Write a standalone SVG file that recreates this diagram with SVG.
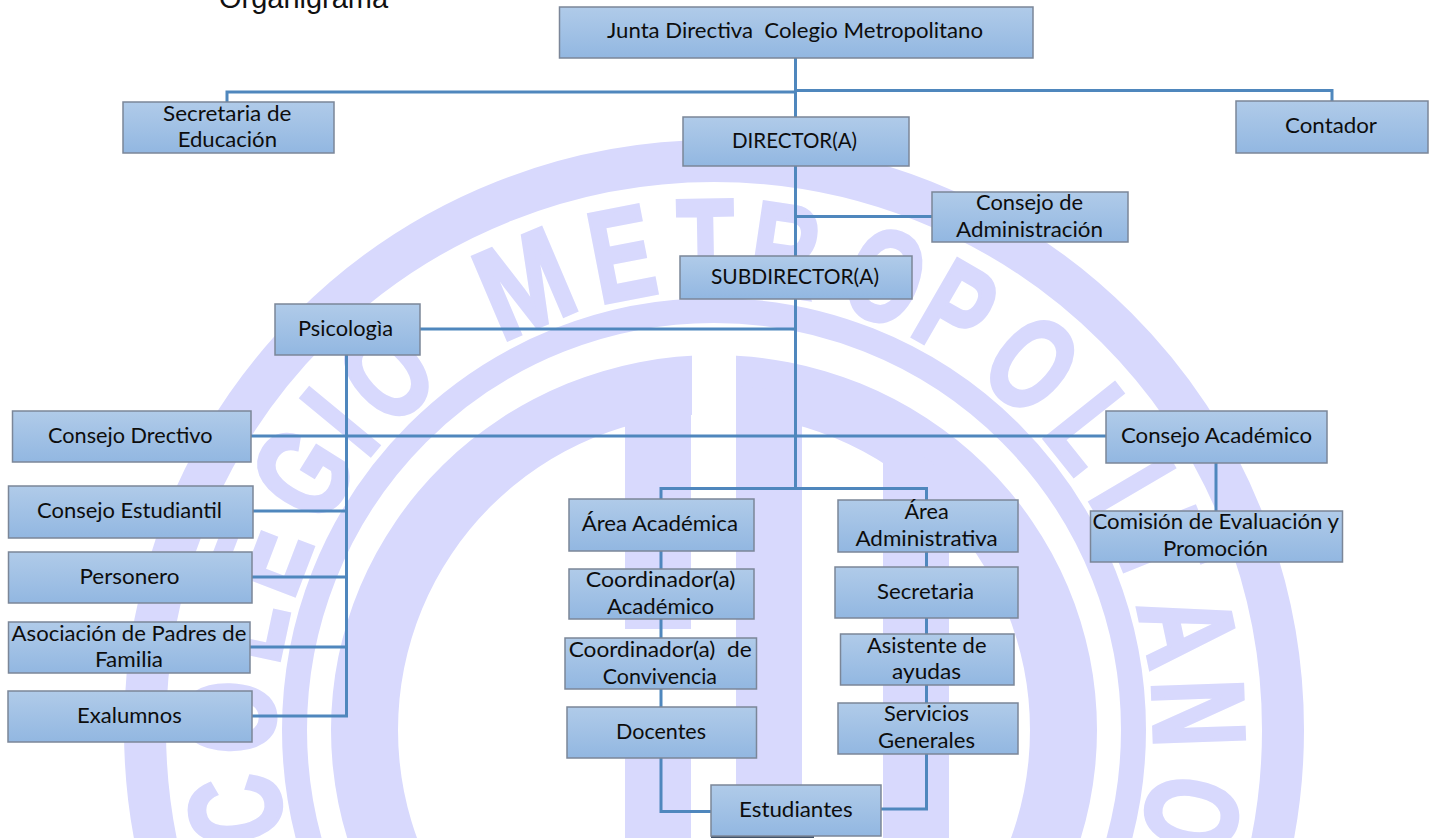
<svg xmlns="http://www.w3.org/2000/svg" width="1429" height="838" viewBox="0 0 1429 838">
<style>
.wm{fill:#d8d9fd;stroke:none}
.ring{fill:none;stroke:#d8d9fd}
.l{font:bold 130px "Liberation Sans",Arial,sans-serif;fill:#d8d9fd;stroke:#d8d9fd;stroke-width:4;text-anchor:middle}
.box{fill:url(#g);stroke:#7b8698;stroke-width:1.5}
.t{font:21.5px Lato,"Liberation Sans",sans-serif;fill:#0d0d0d;white-space:pre}
.title{font:28.6px "Liberation Sans",Arial,sans-serif;fill:#111}
#connectors path{fill:none;stroke:#4f87bd;stroke-width:3}
</style>
<defs>
<linearGradient id="g" x1="0" y1="0" x2="0" y2="1"><stop offset="0" stop-color="#b0cbe9"/><stop offset="1" stop-color="#92b7e1"/></linearGradient>
<clipPath id="gapclip"><path d="M0 0H692V838H0ZM736 0H1429V838H736Z"/></clipPath>
<clipPath id="barclip"><circle cx="714" cy="730" r="345"/></clipPath>
</defs>
<rect width="1429" height="838" fill="#fff"/>
<g id="watermark">
<circle class="ring" cx="714" cy="730" r="569" stroke-width="42"/>
<circle class="ring" cx="714" cy="730" r="419.5" stroke-width="25"/>
<g clip-path="url(#gapclip)">
<path class="wm" fill-rule="evenodd" d="M331 730A383 375 0 0 1 1097 730A383 375 0 0 1 331 730ZM398 730A316 316 0 0 0 1030 730A316 316 0 0 0 398 730Z"/>
</g>
<g clip-path="url(#barclip)">
<rect class="wm" x="625" y="400" width="66" height="229"/>
<rect class="wm" x="625" y="730" width="66" height="108"/>
<rect class="wm" x="736" y="380" width="66" height="458"/>
<rect class="wm" x="883" y="400" width="66" height="438"/>
</g>
<text class="l" transform="rotate(-99.5 714 730) translate(714 290) scale(.72 1)">C</text>
<text class="l" transform="rotate(-88.5 714 730) translate(714 290) scale(.72 1)">O</text>
<text class="l" transform="rotate(-78 714 730) translate(714 290) scale(.72 1)">L</text>
<text class="l" transform="rotate(-69 714 730) translate(714 290) scale(.72 1)">E</text>
<text class="l" transform="rotate(-58 714 730) translate(714 290) scale(.72 1)">G</text>
<text class="l" transform="rotate(-50.5 714 730) translate(714 290) scale(.72 1)">I</text>
<text class="l" transform="rotate(-42.5 714 730) translate(714 290) scale(.72 1)">O</text>
<text class="l" transform="rotate(-23 714 730) translate(714 290) scale(.82 1)">M</text>
<text class="l" transform="rotate(-11 714 730) translate(714 290) scale(.72 1)">E</text>
<text class="l" transform="rotate(-1 714 730) translate(714 290) scale(.72 1)">T</text>
<text class="l" transform="rotate(8.4 714 730) translate(714 290) scale(.72 1)">R</text>
<text class="l" transform="rotate(20.7 714 730) translate(714 290) scale(.72 1)">O</text>
<text class="l" transform="rotate(30 714 730) translate(714 290) scale(.72 1)">P</text>
<text class="l" transform="rotate(41 714 730) translate(714 290) scale(.72 1)">O</text>
<text class="l" transform="rotate(51.5 714 730) translate(714 290) scale(.72 1)">L</text>
<text class="l" transform="rotate(59.6 714 730) translate(714 290) scale(.72 1)">I</text>
<text class="l" transform="rotate(68 714 730) translate(714 290) scale(.72 1)">T</text>
<text class="l" transform="rotate(78 714 730) translate(714 290) scale(.72 1)">A</text>
<text class="l" transform="rotate(88 714 730) translate(714 290) scale(.72 1)">N</text>
<text class="l" transform="rotate(100 714 730) translate(714 290) scale(.72 1)">O</text>
</g>
<text class="title" x="219" y="8" textLength="169" lengthAdjust="spacingAndGlyphs">Organigrama</text>
<g id="connectors">
<path d="M795.5 58V117"/>
<path d="M795.5 90.5H1332V101"/>
<path d="M795.5 92H227V102"/>
<path d="M795.5 166V256"/>
<path d="M795.5 216.5H932"/>
<path d="M795.5 299V488.5"/>
<path d="M420 329H795.5"/>
<path d="M251 436H1106"/>
<path d="M661 499V488.5H926.5V500"/>
<path d="M661 551V569M661 619V638M661 689V707"/>
<path d="M661 758V811.5H711"/>
<path d="M926.5 552V567M926.5 618V634M926.5 685V703"/>
<path d="M926.5 754V809H881"/>
<path d="M346.5 355V716H252"/>
<path d="M253 511H346.5M252 577H346.5M250 647H346.5"/>
<path d="M1216 463V511"/>
</g>
<g id="junta"><rect class="box" x="559.5" y="7" width="473.5" height="51"/><text class="t" x="607" y="38" textLength="376" lengthAdjust="spacingAndGlyphs">Junta Directiva  Colegio Metropolitano</text></g>
<g id="secretaria-educacion"><rect class="box" x="123" y="102" width="211" height="51"/><text class="t" x="163" y="120.5" textLength="128.5" lengthAdjust="spacingAndGlyphs">Secretaria de</text><text class="t" x="177.7" y="146.5" textLength="99.3" lengthAdjust="spacingAndGlyphs">Educación</text></g>
<g id="contador"><rect class="box" x="1236" y="101" width="192" height="52"/><text class="t" x="1285" y="133" textLength="92" lengthAdjust="spacingAndGlyphs">Contador</text></g>
<g id="director"><rect class="box" x="683" y="117" width="226" height="49"/><text class="t" x="732" y="148" textLength="125" lengthAdjust="spacingAndGlyphs">DIRECTOR(A)</text></g>
<g id="consejo-administracion"><rect class="box" x="932" y="192" width="196" height="50"/><text class="t" x="976" y="210" textLength="107" lengthAdjust="spacingAndGlyphs">Consejo de</text><text class="t" x="956" y="236.5" textLength="147" lengthAdjust="spacingAndGlyphs">Administración</text></g>
<g id="subdirector"><rect class="box" x="680" y="256" width="232" height="43"/><text class="t" x="711" y="284" textLength="168" lengthAdjust="spacingAndGlyphs">SUBDIRECTOR(A)</text></g>
<g id="psicologia"><rect class="box" x="275" y="304" width="145" height="51"/><text class="t" x="298" y="335.5" textLength="95" lengthAdjust="spacingAndGlyphs">Psicologìa</text></g>
<g id="consejo-directivo"><rect class="box" x="12.5" y="411" width="238.5" height="51"/><text class="t" x="48" y="443" textLength="164.5" lengthAdjust="spacingAndGlyphs">Consejo Drectivo</text></g>
<g id="consejo-academico"><rect class="box" x="1106" y="411" width="221" height="52"/><text class="t" x="1121" y="443" textLength="191" lengthAdjust="spacingAndGlyphs">Consejo Académico</text></g>
<g id="consejo-estudiantil"><rect class="box" x="8.5" y="486" width="244.5" height="52"/><text class="t" x="37" y="518" textLength="185" lengthAdjust="spacingAndGlyphs">Consejo Estudiantil</text></g>
<g id="personero"><rect class="box" x="8.5" y="552" width="243.5" height="51"/><text class="t" x="79.5" y="584" textLength="100" lengthAdjust="spacingAndGlyphs">Personero</text></g>
<g id="asociacion"><rect class="box" x="8.5" y="622" width="241.5" height="51"/><text class="t" x="11.6" y="641" textLength="234.8" lengthAdjust="spacingAndGlyphs">Asociación de Padres de</text><text class="t" x="95" y="667" textLength="68" lengthAdjust="spacingAndGlyphs">Familia</text></g>
<g id="exalumnos"><rect class="box" x="8" y="691" width="244" height="51"/><text class="t" x="77" y="723" textLength="104.7" lengthAdjust="spacingAndGlyphs">Exalumnos</text></g>
<g id="area-academica"><rect class="box" x="569" y="499" width="185" height="52"/><text class="t" x="581.7" y="531" textLength="156.3" lengthAdjust="spacingAndGlyphs">Área Académica</text></g>
<g id="coordinador-academico"><rect class="box" x="569" y="569" width="185" height="50"/><text class="t" x="585.7" y="586.5" textLength="149.8" lengthAdjust="spacingAndGlyphs">Coordinador(a)</text><text class="t" x="607" y="613.5" textLength="107" lengthAdjust="spacingAndGlyphs">Académico</text></g>
<g id="coordinador-convivencia"><rect class="box" x="565" y="638" width="191.5" height="51"/><text class="t" x="568.7" y="657" textLength="183" lengthAdjust="spacingAndGlyphs">Coordinador(a)  de</text><text class="t" x="602.7" y="684" textLength="114.3" lengthAdjust="spacingAndGlyphs">Convivencia</text></g>
<g id="docentes"><rect class="box" x="567" y="707" width="189.5" height="51"/><text class="t" x="616" y="739" textLength="90" lengthAdjust="spacingAndGlyphs">Docentes</text></g>
<g id="estudiantes"><rect x="711" y="836" width="103" height="2" fill="#44546a"/><rect class="box" x="711" y="785" width="170" height="51"/><text class="t" x="739" y="817" textLength="113.6" lengthAdjust="spacingAndGlyphs">Estudiantes</text></g>
<g id="area-administrativa"><rect class="box" x="838" y="500" width="180" height="52"/><text class="t" x="904.4" y="519" textLength="44.3" lengthAdjust="spacingAndGlyphs">Área</text><text class="t" x="855.4" y="546" textLength="142.3" lengthAdjust="spacingAndGlyphs">Administrativa</text></g>
<g id="secretaria"><rect class="box" x="835" y="567" width="183" height="51"/><text class="t" x="877" y="599" textLength="97" lengthAdjust="spacingAndGlyphs">Secretaria</text></g>
<g id="asistente"><rect class="box" x="840.5" y="634" width="173.5" height="51"/><text class="t" x="867" y="653" textLength="119.5" lengthAdjust="spacingAndGlyphs">Asistente de</text><text class="t" x="892" y="679" textLength="69" lengthAdjust="spacingAndGlyphs">ayudas</text></g>
<g id="servicios"><rect class="box" x="838" y="703" width="180" height="51"/><text class="t" x="884" y="721" textLength="85" lengthAdjust="spacingAndGlyphs">Servicios</text><text class="t" x="878" y="748" textLength="97" lengthAdjust="spacingAndGlyphs">Generales</text></g>
<g id="comision"><rect class="box" x="1090.5" y="511" width="252" height="51"/><text class="t" x="1092.5" y="529" textLength="246.5" lengthAdjust="spacingAndGlyphs">Comisión de Evaluación y</text><text class="t" x="1163" y="556" textLength="105" lengthAdjust="spacingAndGlyphs">Promoción</text></g>
</svg>
